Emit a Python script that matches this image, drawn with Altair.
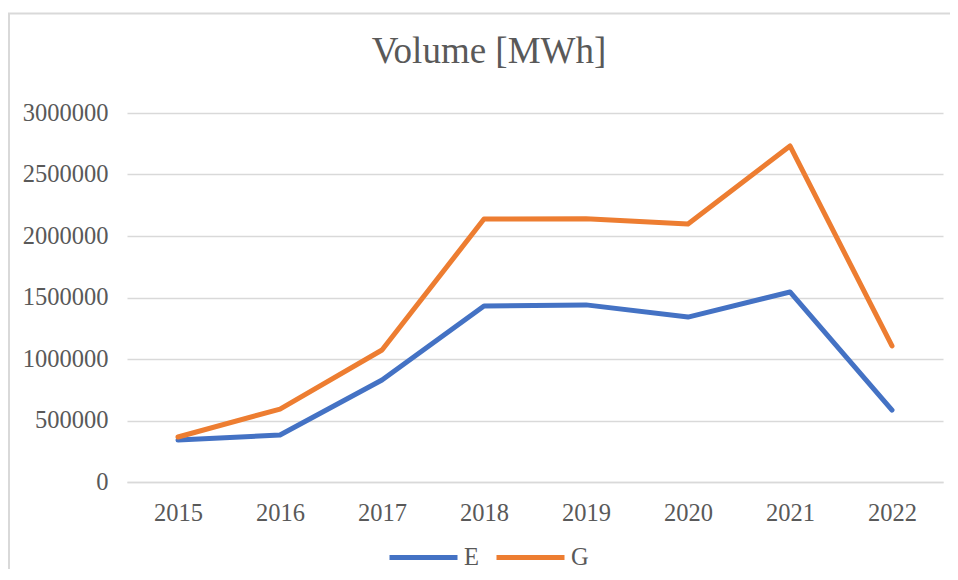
import altair as alt
import pandas as pd

years = ["2015", "2016", "2017", "2018", "2019", "2020", "2021", "2022"]
series_names = ["E", "G"]
e_values = [341000, 382000, 829000, 1431000, 1440000, 1341000, 1545000, 585000]
g_values = [366000, 593000, 1073000, 2138000, 2140000, 2098000, 2732000, 1106000]
colors = ["#4472C4", "#ED7D31"]
y_ticks = [0, 500000, 1000000, 1500000, 2000000, 2500000, 3000000]
title_text = "Volume [MWh]"

rows = []
for name, vals in zip(series_names, [e_values, g_values]):
    for yr, v in zip(years, vals):
        rows.append({"Year": yr, "Volume": v, "Series": name})
df = pd.DataFrame(rows)

FONT = "Liberation Serif"
GRAY = "#595959"
GRID = "#d9d9d9"
LBL = 24.5

lines = alt.Chart(df).mark_line(
    strokeWidth=5, strokeCap="round", strokeJoin="round"
).encode(
    x=alt.X("Year:O", sort=years, title=None,
            axis=alt.Axis(labelAngle=0, labelFont=FONT, labelFontSize=LBL,
                          labelColor=GRAY, labelPadding=19, ticks=False,
                          domain=True, domainColor=GRID, domainWidth=1.5,
                          grid=False)),
    y=alt.Y("Volume:Q", title=None,
            scale=alt.Scale(domain=[0, 3000000], nice=False),
            axis=alt.Axis(values=y_ticks, format="d", labelFont=FONT,
                          labelFontSize=LBL, labelColor=GRAY, labelPadding=19,
                          ticks=False, domain=False, grid=True,
                          gridColor=GRID, gridWidth=1.5)),
    color=alt.Color("Series:N", scale=alt.Scale(domain=series_names, range=colors),
                    legend=alt.Legend(title=None, orient="none", direction="horizontal",
                                      legendX=260, legendY=408,
                                      symbolType="stroke", symbolSize=4624,
                                      symbolStrokeWidth=5, labelFont=FONT,
                                      labelFontSize=LBL, labelColor=GRAY,
                                      labelOffset=4, columnPadding=7)),
)

border = alt.Chart(pd.DataFrame({"a": [0]})).mark_rect(
    fillOpacity=0, stroke=GRID, strokeWidth=2
).encode(
    x=alt.value(-118), x2=alt.value(900),
    y=alt.value(-99.5), y2=alt.value(600)
)

title = alt.Chart(pd.DataFrame({"t": [title_text]})).mark_text(
    font=FONT, fontSize=37, color=GRAY, align="center", baseline="middle"
).encode(
    text="t:N", x=alt.value(362), y=alt.value(-61)
)

chart = alt.layer(border, lines, title).properties(
    width=816, height=369,
    autosize=alt.AutoSizeParams(type="none"),
    padding={"left": 119, "top": 105, "right": 7, "bottom": 87},
).configure_view(stroke=None)

chart.save("out.html", embed_options={"renderer": "svg", "actions": False})
